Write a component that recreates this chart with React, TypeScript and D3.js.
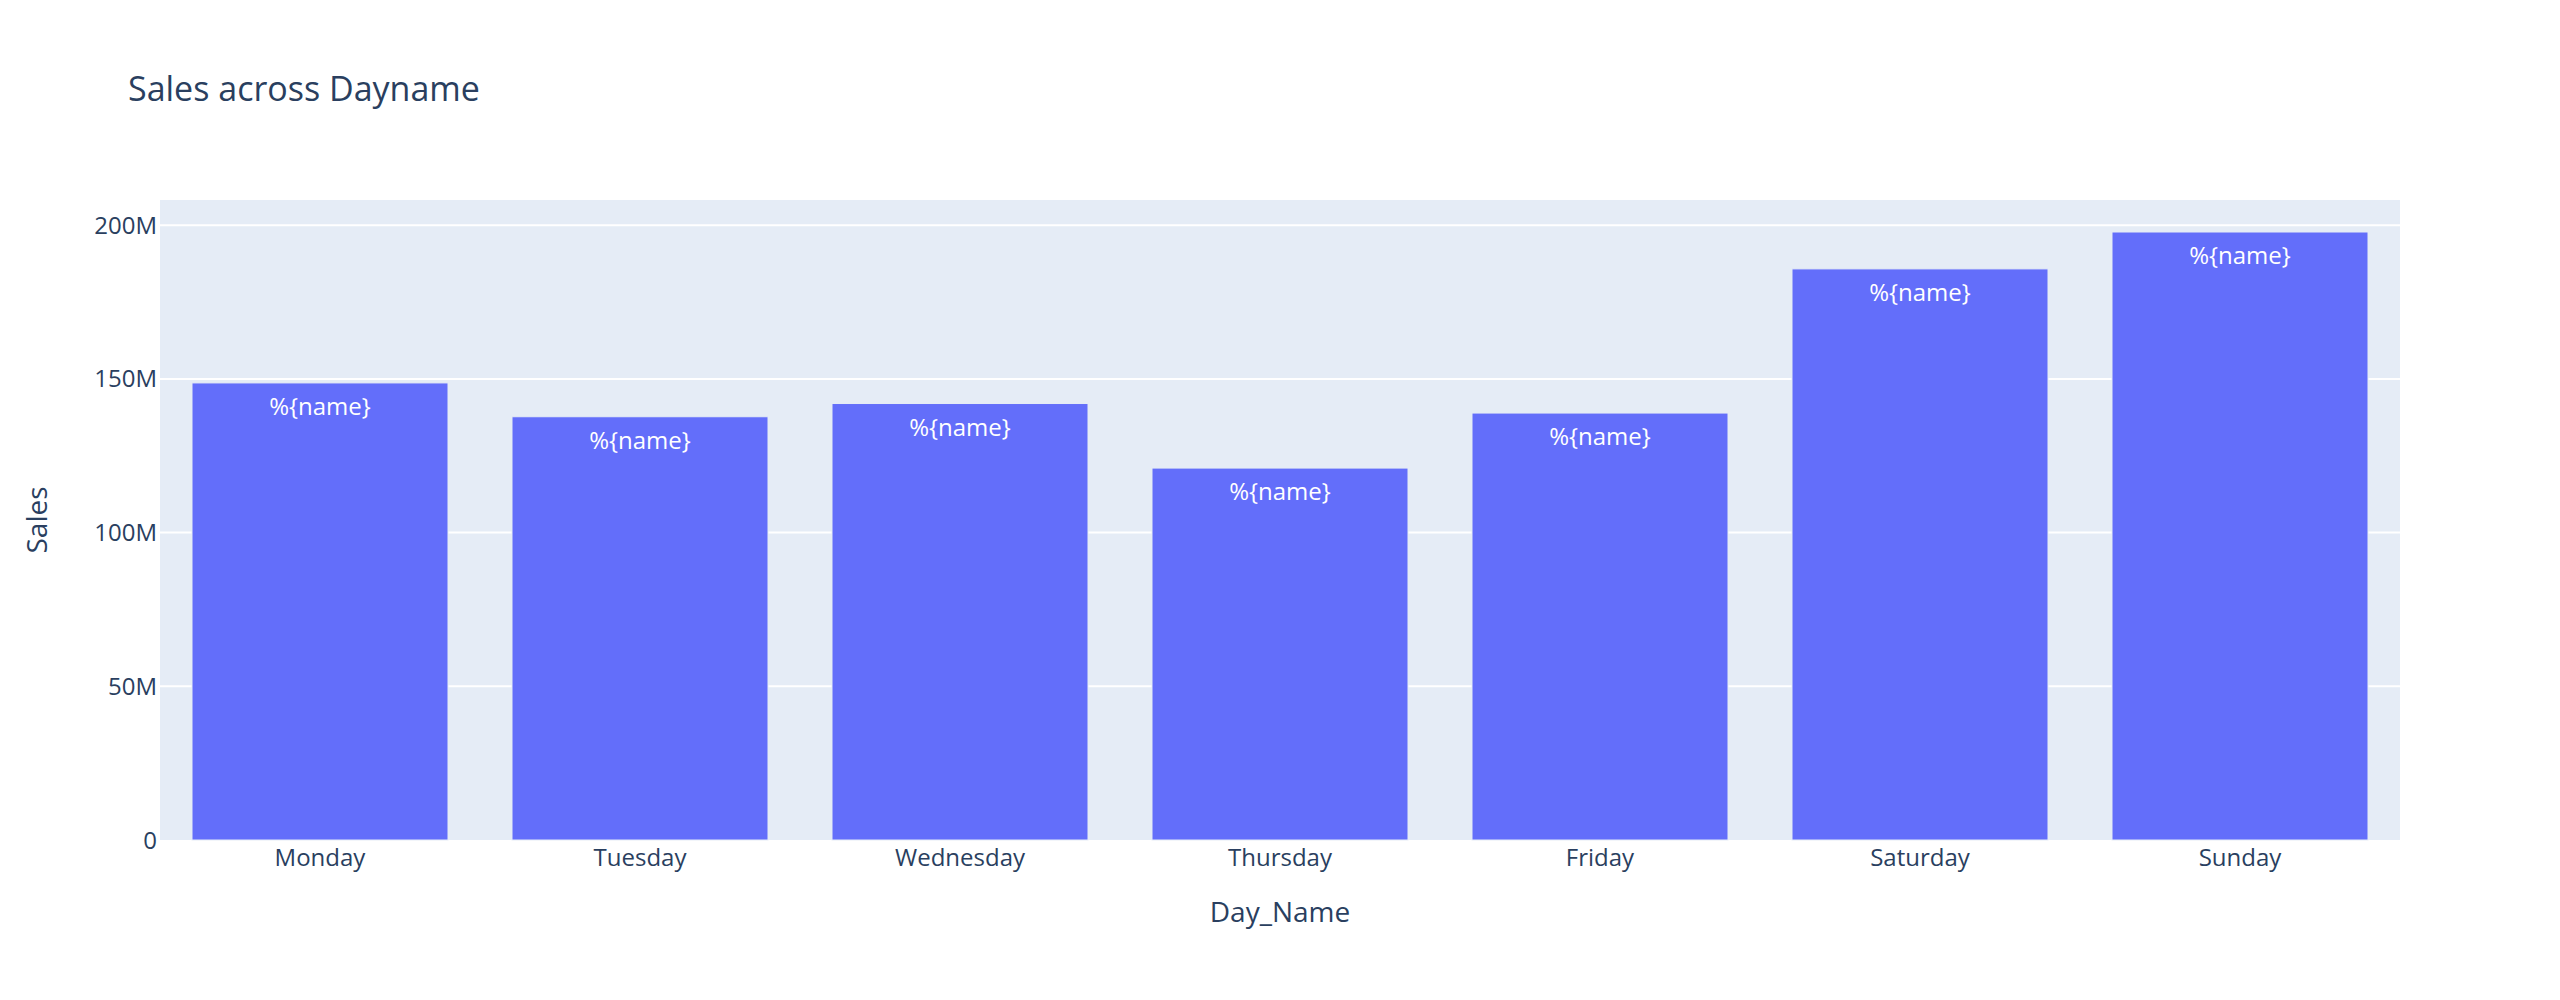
import React, { useEffect, useRef } from 'react';
import * as d3 from 'd3';

// data
const days = ['Monday', 'Tuesday', 'Wednesday', 'Thursday', 'Friday', 'Saturday', 'Sunday'];
const sales = [148.7e6, 137.7e6, 142.0e6, 121.0e6, 138.9e6, 185.8e6, 197.8e6];
const yTicks = [0, 50e6, 100e6, 150e6, 200e6];
const yTickLabels = ['0', '50M', '100M', '150M', '200M'];

const App = () => {
    const ref = useRef<SVGSVGElement>(null);

    useEffect(() => {
        const svg = d3.select(ref.current);
        svg.selectAll('*').remove();

        const width = 2560;
        const height = 1000;
        const margin = { top: 200, right: 160, bottom: 160, left: 160 };
        const font = '"Open Sans", "Noto Sans", sans-serif';
        const textColor = '#2a3f5f';

        const x = d3.scaleBand()
            .domain(days)
            .range([margin.left, width - margin.right])
            .paddingInner(0.2)
            .paddingOuter(0.1);

        // plotly-like autorange: leave ~5% headroom above the tallest bar
        const y = d3.scaleLinear()
            .domain([0, d3.max(sales)! / 0.95])
            .range([height - margin.bottom, margin.top]);

        // plot background
        svg.append('rect')
            .attr('x', margin.left)
            .attr('y', margin.top)
            .attr('width', width - margin.left - margin.right)
            .attr('height', height - margin.top - margin.bottom)
            .attr('fill', '#E5ECF6');

        // gridlines
        svg.append('g')
            .selectAll('line')
            .data(yTicks.slice(1))
            .join('line')
            .attr('x1', margin.left)
            .attr('x2', width - margin.right)
            .attr('y1', d => y(d))
            .attr('y2', d => y(d))
            .attr('stroke', 'white')
            .attr('stroke-width', 2);

        // bars
        const data = days.map((d, i) => ({ day: d, value: sales[i] }));
        svg.append('g')
            .selectAll('rect')
            .data(data)
            .join('rect')
            .attr('x', d => x(d.day)!)
            .attr('y', d => y(d.value))
            .attr('width', x.bandwidth())
            .attr('height', d => y(0) - y(d.value))
            .attr('fill', '#636efa')
            .attr('stroke', '#E5ECF6')
            .attr('stroke-width', 1);

        // bar text (literal template string as in the reference)
        svg.append('g')
            .selectAll('text')
            .data(data)
            .join('text')
            .attr('x', d => x(d.day)! + x.bandwidth() / 2)
            .attr('y', d => y(d.value) + 32)
            .attr('text-anchor', 'middle')
            .attr('font-family', font)
            .attr('font-size', 24)
            .attr('fill', 'white')
            .text('%{name}');

        // y tick labels
        svg.append('g')
            .selectAll('text')
            .data(yTicks)
            .join('text')
            .attr('x', margin.left - 3)
            .attr('y', d => y(d) + 8.5)
            .attr('text-anchor', 'end')
            .attr('font-family', font)
            .attr('font-size', 24)
            .attr('fill', textColor)
            .text((d, i) => yTickLabels[i]);

        // x tick labels
        svg.append('g')
            .selectAll('text')
            .data(days)
            .join('text')
            .attr('x', d => x(d)! + x.bandwidth() / 2)
            .attr('y', height - margin.bottom + 26)
            .attr('text-anchor', 'middle')
            .attr('font-family', font)
            .attr('font-size', 24)
            .attr('fill', textColor)
            .text(d => d);

        // axis titles
        svg.append('text')
            .attr('x', (margin.left + width - margin.right) / 2)
            .attr('y', 922)
            .attr('text-anchor', 'middle')
            .attr('font-family', font)
            .attr('font-size', 28)
            .attr('fill', textColor)
            .text('Day_Name');

        svg.append('text')
            .attr('transform', `translate(47,${(margin.top + height - margin.bottom) / 2}) rotate(-90)`)
            .attr('text-anchor', 'middle')
            .attr('font-family', font)
            .attr('font-size', 28)
            .attr('fill', textColor)
            .text('Sales');

        // chart title
        svg.append('text')
            .attr('x', 128)
            .attr('y', 101)
            .attr('font-family', font)
            .attr('font-size', 34)
            .attr('fill', textColor)
            .text('Sales across Dayname');
    }, []);

    return (
        <div style={{ margin: -8 }}>
            <svg ref={ref} width={2560} height={1000} style={{ display: 'block', background: 'white' }}></svg>
        </div>
    );
};

export default App;
